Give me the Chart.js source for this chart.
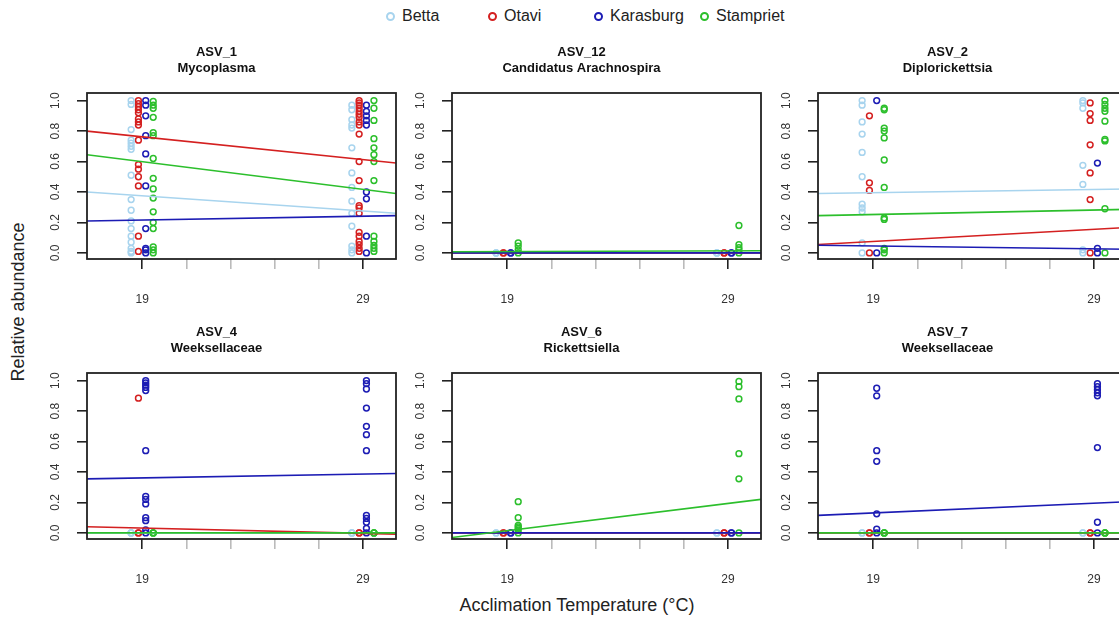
<!DOCTYPE html>
<html>
<head>
<meta charset="utf-8">
<title>Relative abundance by acclimation temperature</title>
<script src="https://cdn.jsdelivr.net/npm/chart.js@4.4.1/dist/chart.umd.min.js"></script>
<style>
  html, body { margin: 0; padding: 0; background: #fff; }
  body {
    position: relative; width: 1119px; height: 618px; overflow: hidden;
    font-family: "Liberation Sans", Arial, sans-serif; color: #222;
  }
  .panel { position: absolute; }
  .legend span { position: absolute; top: 6px; font-size: 16px; line-height: 20px; white-space: nowrap; }
  .legend i {
    position: absolute; top: 12px; width: 5px; height: 5px;
    border: 2px solid; border-radius: 50%;
  }
  .axis-title { position: absolute; font-size: 18px; white-space: nowrap; transform: translate(-50%, -50%); }
</style>
</head>
<body>
<div class="legend" id="legend"></div>
<div class="axis-title" style="left:18px; top:302px; transform: translate(-50%, -50%) rotate(-90deg);">Relative abundance</div>
<div class="axis-title" style="left:577px; top:605px;">Acclimation Temperature (°C)</div>

<script>
  // Sites, colours and the shared axes
  const sites = ['Betta', 'Otavi', 'Karasburg', 'Stampriet'];
  const siteColors = ['#a8d4ee', '#d42020', '#1c1cb4', '#2cbf2c'];
  const temps = [19, 29];
  const dodge = [-0.5, -0.17, 0.16, 0.5];      // side-by-side shift per site
  const tempTicks = [19, 21, 23, 25, 27, 29];
  const xLimits = [16.5, 30.5];
  const yTicks = [0, 0.2, 0.4, 0.6, 0.8, 1.0];
  const yLimits = [-0.04, 1.05];

  const asvIds = ['ASV_1', 'ASV_12', 'ASV_2', 'ASV_4', 'ASV_6', 'ASV_7'];
  const taxa = ['Mycoplasma', 'Candidatus Arachnospira', 'Diplorickettsia',
                'Weeksellaceae', 'Rickettsiella', 'Weeksellaceae'];

  // Relative abundance per site: [samples at 19 °C, samples at 29 °C]
  const asv1 = {
    Betta: [[1.0, 0.975, 0.81, 0.74, 0.72, 0.70, 0.68, 0.51, 0.35, 0.28, 0.21, 0.16, 0.11, 0.07, 0.03, 0.01, 0.0],
            [0.97, 0.94, 0.875, 0.84, 0.82, 0.69, 0.525, 0.43, 0.34, 0.26, 0.175, 0.045, 0.02, 0.0]],
    Otavi: [[1.0, 0.98, 0.96, 0.94, 0.92, 0.88, 0.86, 0.84, 0.74, 0.58, 0.55, 0.50, 0.44, 0.11, 0.01],
            [1.0, 0.985, 0.97, 0.95, 0.93, 0.91, 0.89, 0.86, 0.84, 0.78, 0.60, 0.475, 0.31, 0.295, 0.26, 0.135, 0.11, 0.075, 0.055, 0.03, 0.01]],
    Karasburg: [[1.0, 0.97, 0.90, 0.77, 0.65, 0.44, 0.16, 0.03, 0.02, 0.0],
                [0.97, 0.93, 0.90, 0.87, 0.84, 0.40, 0.355, 0.11, 0.0]],
    Stampriet: [[0.995, 0.97, 0.95, 0.89, 0.79, 0.77, 0.62, 0.49, 0.42, 0.36, 0.27, 0.20, 0.16, 0.04, 0.02, 0.0],
                [1.0, 0.95, 0.87, 0.75, 0.69, 0.645, 0.60, 0.475, 0.11, 0.075, 0.05, 0.03, 0.01]]
  };
  const asv12 = {
    Betta: [[0, 0, 0], [0, 0, 0]],
    Otavi: [[0, 0], [0, 0]],
    Karasburg: [[0, 0], [0, 0]],
    Stampriet: [[0.065, 0.045, 0.02, 0.0], [0.18, 0.055, 0.035, 0.02, 0.0]]
  };
  const asv2 = {
    Betta: [[1.0, 0.97, 0.86, 0.78, 0.66, 0.50, 0.32, 0.295, 0.27, 0.065, 0.0],
            [1.0, 0.985, 0.95, 0.575, 0.45, 0.02, 0.0]],
    Otavi: [[0.90, 0.46, 0.41, 0.0], [0.985, 0.915, 0.87, 0.71, 0.525, 0.35, 0.0]],
    Karasburg: [[1.0, 0.0], [0.59, 0.03, 0.0]],
    Stampriet: [[0.95, 0.94, 0.82, 0.80, 0.755, 0.61, 0.43, 0.23, 0.22, 0.03, 0.02, 0.0],
                [1.0, 0.975, 0.95, 0.93, 0.865, 0.745, 0.735, 0.29, 0.0]]
  };
  const asv4 = {
    Betta: [[0, 0, 0], [0, 0, 0]],
    Otavi: [[0.885, 0.0, 0.0], [0.0, 0.0]],
    Karasburg: [[1.0, 0.985, 0.97, 0.955, 0.935, 0.54, 0.24, 0.22, 0.19, 0.10, 0.08, 0.02, 0.0],
                [1.0, 0.98, 0.945, 0.82, 0.70, 0.645, 0.54, 0.115, 0.095, 0.07, 0.03, 0.0]],
    Stampriet: [[0, 0, 0], [0, 0, 0]]
  };
  const asv6 = {
    Betta: [[0, 0], [0, 0]],
    Otavi: [[0, 0], [0, 0]],
    Karasburg: [[0, 0], [0, 0]],
    Stampriet: [[0.205, 0.10, 0.05, 0.04, 0.03, 0.02, 0.0], [0.995, 0.96, 0.88, 0.52, 0.355, 0.0]]
  };
  const asv7 = {
    Betta: [[0, 0], [0, 0]],
    Otavi: [[0, 0], [0, 0]],
    Karasburg: [[0.95, 0.90, 0.54, 0.47, 0.125, 0.025, 0.0],
                [0.98, 0.96, 0.94, 0.92, 0.90, 0.56, 0.07, 0.0]],
    Stampriet: [[0, 0, 0], [0, 0, 0]]
  };

  // Fitted regression lines, values at the two x limits
  const asv1Fit = { Betta: [0.40, 0.26], Otavi: [0.80, 0.59], Karasburg: [0.21, 0.245], Stampriet: [0.645, 0.39] };
  const asv12Fit = { Betta: [0, 0], Otavi: [0, 0], Karasburg: [0, 0], Stampriet: [0.008, 0.014] };
  const asv2Fit = { Betta: [0.39, 0.42], Otavi: [0.055, 0.167], Karasburg: [0.05, 0.024], Stampriet: [0.245, 0.286] };
  const asv4Fit = { Betta: [0, 0], Otavi: [0.04, -0.008], Karasburg: [0.355, 0.39], Stampriet: [0, 0] };
  const asv6Fit = { Betta: [0, 0], Otavi: [0, 0], Karasburg: [0, 0], Stampriet: [-0.03, 0.22] };
  const asv7Fit = { Betta: [0, 0], Otavi: [0, 0], Karasburg: [0.115, 0.205], Stampriet: [0, 0] };

  const panelData = [asv1, asv12, asv2, asv4, asv6, asv7];
  const panelFits = [asv1Fit, asv12Fit, asv2Fit, asv4Fit, asv6Fit, asv7Fit];

  // Panel grid
  const boxLefts = [87, 452, 818];
  const boxTops = [93, 373];
  const boxW = 309, boxH = 166;
  const mLeft = 50, mTop = 50, mBottom = 50, mRight = 6;
  const font = '"Liberation Sans", Arial, sans-serif';

  // Legend row
  const legendX = [390, 492, 598, 704];
  const legend = document.getElementById('legend');
  sites.forEach((s, i) => {
    const dot = document.createElement('i');
    dot.style.left = (legendX[i] - 4.5) + 'px';
    dot.style.borderColor = siteColors[i];
    const txt = document.createElement('span');
    txt.style.left = (legendX[i] + 12) + 'px';
    txt.textContent = s;
    legend.appendChild(dot);
    legend.appendChild(txt);
  });

  // Closed frame round the plotting region
  const frame = {
    id: 'frame',
    afterDraw(chart) {
      const a = chart.chartArea, c = chart.ctx;
      c.save();
      c.strokeStyle = '#222';
      c.lineWidth = 1.8;
      c.strokeRect(a.left, a.top, a.right - a.left, a.bottom - a.top);
      c.restore();
    }
  };

  function buildDatasets(data, fit) {
    const sets = [];
    sites.forEach((s, i) => {
      const pts = [];
      temps.forEach((t, k) => {
        data[s][k].forEach(v => pts.push({ x: t + dodge[i], y: v }));
      });
      sets.push({
        label: s,
        data: pts,
        pointStyle: 'circle',
        pointRadius: 2.9,
        pointBorderWidth: 1.5,
        pointBorderColor: siteColors[i],
        pointBackgroundColor: 'rgba(0,0,0,0)',
        showLine: false,
        order: 10
      });
      sets.push({
        label: s + ' fit',
        data: [{ x: xLimits[0], y: fit[s][0] }, { x: xLimits[1], y: fit[s][1] }],
        showLine: true,
        borderColor: siteColors[i],
        borderWidth: 1.6,
        pointRadius: 0,
        order: 4 - i
      });
    });
    return sets;
  }

  asvIds.forEach((id, p) => {
    const col = p % 3, row = Math.floor(p / 3);
    const wrap = document.createElement('div');
    wrap.className = 'panel';
    wrap.style.left = (boxLefts[col] - mLeft) + 'px';
    wrap.style.top = (boxTops[row] - mTop) + 'px';
    const canvas = document.createElement('canvas');
    canvas.width = mLeft + boxW + mRight;
    canvas.height = mTop + boxH + mBottom;
    wrap.appendChild(canvas);
    document.body.appendChild(wrap);

    new Chart(canvas, {
      type: 'scatter',
      data: { datasets: buildDatasets(panelData[p], panelFits[p]) },
      options: {
        responsive: false,
        animation: false,
        devicePixelRatio: 1,
        layout: { padding: { left: 0, right: mRight, top: 0, bottom: 0 } },
        plugins: {
          legend: { display: false },
          tooltip: { enabled: false },
          title: {
            display: true,
            text: [id, taxa[p]],
            color: '#111',
            font: { family: font, size: 13, weight: 'bold', lineHeight: 1.2 },
            padding: { top: 2, bottom: 16.8 }
          }
        },
        scales: {
          x: {
            type: 'linear',
            min: xLimits[0],
            max: xLimits[1],
            afterFit: s => { s.height = mBottom; },
            afterBuildTicks: s => { s.ticks = tempTicks.map(v => ({ value: v })); },
            border: { display: false },
            grid: {
              drawOnChartArea: false,
              drawTicks: true,
              tickLength: 10,
              lineWidth: 1.6,
              color: ctx => (ctx.tick && temps.includes(ctx.tick.value)) ? '#222' : '#bbb'
            },
            ticks: {
              autoSkip: false,
              maxRotation: 0,
              padding: 23,
              color: '#333',
              font: { family: font, size: 12 },
              callback: v => temps.includes(v) ? String(v) : ''
            }
          },
          y: {
            type: 'linear',
            min: yLimits[0],
            max: yLimits[1],
            afterFit: s => { s.width = mLeft; },
            afterBuildTicks: s => { s.ticks = yTicks.map(v => ({ value: v })); },
            border: { display: false },
            grid: {
              drawOnChartArea: false,
              drawTicks: true,
              tickLength: 10,
              lineWidth: 1.6,
              color: '#222'
            },
            ticks: {
              minRotation: 90,
              maxRotation: 90,
              crossAlign: 'center',
              padding: 13,
              color: '#333',
              font: { family: font, size: 12 },
              callback: v => v.toFixed(1)
            }
          }
        }
      },
      plugins: [frame]
    });
  });
</script>
</body>
</html>
